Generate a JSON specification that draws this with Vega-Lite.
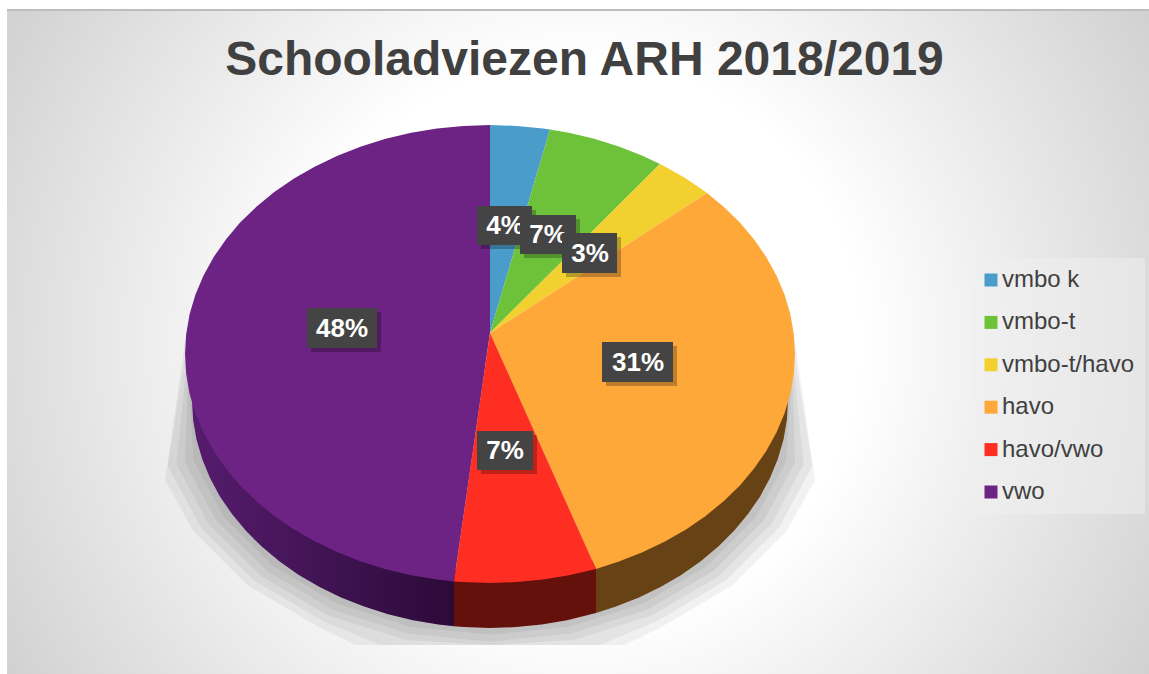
{
"$schema":"https://vega.github.io/schema/vega-lite/v6.json",
"width":1149,"height":674,"padding":0,"autosize":{"type":"none"},
"background":"#ffffff",
"view":{"stroke":null},
"title":{"text":"Schooladviezen ARH 2018/2019","font":"Liberation Sans","fontSize":48,"fontWeight":"bold","color":"#404040","anchor":"middle","frame":"group","offset":-85,"dx":10},
"datasets":{
"frame":[{"x":7,"x2":1149,"y":11,"y2":674}],
"topline":[{"x":7,"x2":1149,"y":9,"y2":11}],
"legendbox":[{"x":972,"x2":1145,"y":258,"y2":514}],
"shadow":[
{"p":"k1","o":0,"x":188,"y":370},{"p":"k1","o":1,"x":193.6,"y":460.8},{"p":"k1","o":2,"x":224.2,"y":517.4},{"p":"k1","o":3,"x":273,"y":566},{"p":"k1","o":4,"x":336.5,"y":603.4},{"p":"k1","o":5,"x":410.6,"y":626.8},{"p":"k1","o":6,"x":490,"y":634.8},{"p":"k1","o":7,"x":569.4,"y":626.8},{"p":"k1","o":8,"x":643.5,"y":603.4},{"p":"k1","o":9,"x":707,"y":566},{"p":"k1","o":10,"x":755.8,"y":517.4},{"p":"k1","o":11,"x":786.4,"y":460.8},{"p":"k1","o":12,"x":792,"y":370},
{"p":"k2","o":0,"x":188,"y":365},{"p":"k2","o":1,"x":184.9,"y":462.5},{"p":"k2","o":2,"x":216.4,"y":520.8},{"p":"k2","o":3,"x":266.7,"y":570.9},{"p":"k2","o":4,"x":332.1,"y":609.4},{"p":"k2","o":5,"x":408.3,"y":633.4},{"p":"k2","o":6,"x":490,"y":641.7},{"p":"k2","o":7,"x":571.7,"y":633.4},{"p":"k2","o":8,"x":647.9,"y":609.4},{"p":"k2","o":9,"x":713.3,"y":570.9},{"p":"k2","o":10,"x":763.6,"y":520.8},{"p":"k2","o":11,"x":795.1,"y":462.5},{"p":"k2","o":12,"x":792,"y":365},
{"p":"k3","o":0,"x":187,"y":360},{"p":"k3","o":1,"x":176.3,"y":464.3},{"p":"k3","o":2,"x":208.7,"y":524.3},{"p":"k3","o":3,"x":260.3,"y":575.7},{"p":"k3","o":4,"x":327.6,"y":615.3},{"p":"k3","o":5,"x":406,"y":640},{"p":"k3","o":6,"x":490,"y":645},{"p":"k3","o":7,"x":574,"y":640},{"p":"k3","o":8,"x":652.4,"y":615.3},{"p":"k3","o":9,"x":719.7,"y":575.7},{"p":"k3","o":10,"x":771.3,"y":524.3},{"p":"k3","o":11,"x":803.7,"y":464.3},{"p":"k3","o":12,"x":793,"y":360},
{"p":"k4","o":0,"x":186,"y":350},{"p":"k4","o":1,"x":167.7,"y":466.1},{"p":"k4","o":2,"x":200.9,"y":527.7},{"p":"k4","o":3,"x":254,"y":580.5},{"p":"k4","o":4,"x":323.1,"y":621.2},{"p":"k4","o":5,"x":380,"y":645},{"p":"k4","o":6,"x":490,"y":645},{"p":"k4","o":7,"x":600,"y":645},{"p":"k4","o":8,"x":656.9,"y":621.2},{"p":"k4","o":9,"x":726,"y":580.5},{"p":"k4","o":10,"x":779.1,"y":527.7},{"p":"k4","o":11,"x":812.3,"y":466.1},{"p":"k4","o":12,"x":794,"y":350},
{"p":"k5","o":0,"x":185,"y":340},{"p":"k5","o":1,"x":165,"y":480},{"p":"k5","o":2,"x":193.2,"y":531},{"p":"k5","o":3,"x":247.7,"y":585.4},{"p":"k5","o":4,"x":318.6,"y":627.1},{"p":"k5","o":5,"x":355,"y":645},{"p":"k5","o":6,"x":490,"y":645},{"p":"k5","o":7,"x":625,"y":645},{"p":"k5","o":8,"x":661.4,"y":627.1},{"p":"k5","o":9,"x":732.3,"y":585.4},{"p":"k5","o":10,"x":786.8,"y":531},{"p":"k5","o":11,"x":815,"y":480},{"p":"k5","o":12,"x":795,"y":340}
],
"wallPurple":[
{"o":0,"x":454,"y":570},{"o":1,"x":454,"y":626.3},{"o":2,"x":438.3,"y":624.5},{"o":3,"x":412.9,"y":620.2},{"o":4,"x":388.1,"y":614.3},{"o":5,"x":364.1,"y":606.6},{"o":6,"x":341,"y":597.5},{"o":7,"x":319.1,"y":586.8},{"o":8,"x":298.4,"y":574.7},{"o":9,"x":279.3,"y":561.2},{"o":10,"x":261.7,"y":546.6},{"o":11,"x":245.9,"y":530.8},{"o":12,"x":232,"y":514},{"o":13,"x":219.9,"y":496.4},{"o":14,"x":210,"y":478},{"o":15,"x":202.2,"y":459},{"o":16,"x":196.5,"y":439.6},{"o":17,"x":193.1,"y":419.9},{"o":18,"x":192,"y":400},{"o":19,"x":200,"y":380}
],
"wallRed":[
{"o":0,"x":454,"y":570},{"o":1,"x":454,"y":626.3},{"o":2,"x":464,"y":627.1},{"o":3,"x":490,"y":628},{"o":4,"x":516,"y":627.1},{"o":5,"x":541.7,"y":624.5},{"o":6,"x":567.1,"y":620.2},{"o":7,"x":596,"y":613},{"o":8,"x":596,"y":560}
],
"wallOrange":[
{"o":0,"x":596,"y":560},{"o":1,"x":596,"y":613},{"o":2,"x":615.9,"y":606.6},{"o":3,"x":639,"y":597.5},{"o":4,"x":660.9,"y":586.8},{"o":5,"x":681.6,"y":574.7},{"o":6,"x":700.7,"y":561.2},{"o":7,"x":718.3,"y":546.6},{"o":8,"x":734.1,"y":530.8},{"o":9,"x":748,"y":514},{"o":10,"x":760.1,"y":496.4},{"o":11,"x":770,"y":478},{"o":12,"x":777.8,"y":459},{"o":13,"x":783.5,"y":439.6},{"o":14,"x":786.9,"y":419.9},{"o":15,"x":788,"y":400},{"o":16,"x":780,"y":380}
],
"wedges":[
{"category":"vwo","o":0,"x":490,"y":333},{"category":"vwo","o":1,"x":454,"y":581.6},{"category":"vwo","o":2,"x":437,"y":579.5},{"category":"vwo","o":3,"x":411.1,"y":575.2},{"category":"vwo","o":4,"x":385.7,"y":569.2},{"category":"vwo","o":5,"x":361.1,"y":561.5},{"category":"vwo","o":6,"x":337.5,"y":552.3},{"category":"vwo","o":7,"x":315.1,"y":541.6},{"category":"vwo","o":8,"x":294,"y":529.4},{"category":"vwo","o":9,"x":274.3,"y":515.9},{"category":"vwo","o":10,"x":256.4,"y":501.2},{"category":"vwo","o":11,"x":240.1,"y":485.4},{"category":"vwo","o":12,"x":225.9,"y":468.5},{"category":"vwo","o":13,"x":213.6,"y":450.8},{"category":"vwo","o":14,"x":203.4,"y":432.3},{"category":"vwo","o":15,"x":195.4,"y":413.3},{"category":"vwo","o":16,"x":189.6,"y":393.8},{"category":"vwo","o":17,"x":186.2,"y":374},{"category":"vwo","o":18,"x":185,"y":354},{"category":"vwo","o":19,"x":186.2,"y":334},{"category":"vwo","o":20,"x":189.6,"y":314.2},{"category":"vwo","o":21,"x":195.4,"y":294.7},{"category":"vwo","o":22,"x":203.4,"y":275.7},{"category":"vwo","o":23,"x":213.6,"y":257.2},{"category":"vwo","o":24,"x":225.9,"y":239.5},{"category":"vwo","o":25,"x":240.1,"y":222.6},{"category":"vwo","o":26,"x":256.4,"y":206.8},{"category":"vwo","o":27,"x":274.3,"y":192.1},{"category":"vwo","o":28,"x":294,"y":178.6},{"category":"vwo","o":29,"x":315.1,"y":166.4},{"category":"vwo","o":30,"x":337.5,"y":155.7},{"category":"vwo","o":31,"x":361.1,"y":146.5},{"category":"vwo","o":32,"x":385.7,"y":138.8},{"category":"vwo","o":33,"x":411.1,"y":132.8},{"category":"vwo","o":34,"x":437,"y":128.5},{"category":"vwo","o":35,"x":463.4,"y":125.9},{"category":"vwo","o":36,"x":490,"y":125},
{"category":"vmbo k","o":0,"x":490,"y":333},{"category":"vmbo k","o":1,"x":490,"y":125},{"category":"vmbo k","o":2,"x":516.6,"y":125.9},{"category":"vmbo k","o":3,"x":543,"y":128.5},{"category":"vmbo k","o":4,"x":550,"y":129.5},
{"category":"vmbo-t","o":0,"x":490,"y":333},{"category":"vmbo-t","o":1,"x":550,"y":129.5},{"category":"vmbo-t","o":2,"x":568.9,"y":132.8},{"category":"vmbo-t","o":3,"x":594.3,"y":138.8},{"category":"vmbo-t","o":4,"x":618.9,"y":146.5},{"category":"vmbo-t","o":5,"x":642.5,"y":155.7},{"category":"vmbo-t","o":6,"x":660,"y":164},
{"category":"vmbo-t/havo","o":0,"x":490,"y":333},{"category":"vmbo-t/havo","o":1,"x":660,"y":164},{"category":"vmbo-t/havo","o":2,"x":664.9,"y":166.4},{"category":"vmbo-t/havo","o":3,"x":686,"y":178.6},{"category":"vmbo-t/havo","o":4,"x":705.7,"y":192.1},{"category":"vmbo-t/havo","o":5,"x":707,"y":193},
{"category":"havo","o":0,"x":490,"y":333},{"category":"havo","o":1,"x":707,"y":193},{"category":"havo","o":2,"x":723.6,"y":206.8},{"category":"havo","o":3,"x":739.9,"y":222.6},{"category":"havo","o":4,"x":754.1,"y":239.5},{"category":"havo","o":5,"x":766.4,"y":257.2},{"category":"havo","o":6,"x":776.6,"y":275.7},{"category":"havo","o":7,"x":784.6,"y":294.7},{"category":"havo","o":8,"x":790.4,"y":314.2},{"category":"havo","o":9,"x":793.8,"y":334},{"category":"havo","o":10,"x":795,"y":354},{"category":"havo","o":11,"x":793.8,"y":374},{"category":"havo","o":12,"x":790.4,"y":393.8},{"category":"havo","o":13,"x":784.6,"y":413.3},{"category":"havo","o":14,"x":776.6,"y":432.3},{"category":"havo","o":15,"x":766.4,"y":450.8},{"category":"havo","o":16,"x":754.1,"y":468.5},{"category":"havo","o":17,"x":739.9,"y":485.4},{"category":"havo","o":18,"x":723.6,"y":501.2},{"category":"havo","o":19,"x":705.7,"y":515.9},{"category":"havo","o":20,"x":686,"y":529.4},{"category":"havo","o":21,"x":664.9,"y":541.6},{"category":"havo","o":22,"x":642.5,"y":552.3},{"category":"havo","o":23,"x":618.9,"y":561.5},{"category":"havo","o":24,"x":596,"y":569},
{"category":"havo/vwo","o":0,"x":490,"y":333},{"category":"havo/vwo","o":1,"x":596,"y":569},{"category":"havo/vwo","o":2,"x":568.9,"y":575.2},{"category":"havo/vwo","o":3,"x":543,"y":579.5},{"category":"havo/vwo","o":4,"x":516.6,"y":582.1},{"category":"havo/vwo","o":5,"x":490,"y":583},{"category":"havo/vwo","o":6,"x":463.4,"y":582.1},{"category":"havo/vwo","o":7,"x":454,"y":581.6}
],
"labels":[
{"category":"vwo","share":"48%","group":"a","x":307,"x2":377,"y":308,"y2":348,"cx":342,"cy":329},
{"category":"havo","share":"31%","group":"a","x":602,"x2":673,"y":342,"y2":382,"cx":638,"cy":363},
{"category":"havo/vwo","share":"7%","group":"a","x":477,"x2":533,"y":431,"y2":470,"cx":505,"cy":451},
{"category":"vmbo k","share":"4%","group":"b","x":477,"x2":532,"y":206,"y2":245,"cx":505,"cy":226},
{"category":"vmbo-t","share":"7%","group":"c","x":520,"x2":576,"y":215,"y2":254,"cx":548,"cy":235},
{"category":"vmbo-t/havo","share":"3%","group":"d","x":562,"x2":617,"y":233,"y2":273,"cx":590,"cy":254}
]
},
"encoding":{
"x":{"field":"x","type":"quantitative","axis":null,"scale":{"domain":[0,1149],"nice":false,"zero":false}},
"y":{"field":"y","type":"quantitative","axis":null,"scale":{"domain":[674,0],"nice":false,"zero":false}}
},
"layer":[
{"data":{"name":"frame"},"mark":{"type":"rect","fill":{"gradient":"radial","x1":0.5,"y1":0.5,"r1":0,"x2":0.5,"y2":0.5,"r2":0.707,"stops":[{"offset":0,"color":"#ffffff"},{"offset":0.35,"color":"#ffffff"},{"offset":1,"color":"#bfbfbf"}]}},"encoding":{"x2":{"field":"x2"},"y2":{"field":"y2"}}},
{"data":{"name":"topline"},"mark":{"type":"rect","fill":"#bdbdbd"},"encoding":{"x2":{"field":"x2"},"y2":{"field":"y2"}}},
{"data":{"name":"legendbox"},"mark":{"type":"rect","fill":"#f0f0f0","opacity":0.5},"encoding":{"x2":{"field":"x2"},"y2":{"field":"y2"}}},
{"data":{"name":"shadow"},"mark":{"type":"line","filled":true,"color":"#000000","opacity":0.05,"stroke":null},"encoding":{"detail":{"field":"p"},"order":{"field":"o"}}},
{"data":{"name":"wallPurple"},"mark":{"type":"line","filled":true,"stroke":null,"fill":{"gradient":"linear","x1":0,"y1":0,"x2":1,"y2":0,"stops":[{"offset":0,"color":"#561c6e"},{"offset":1,"color":"#2c0a38"}]}},"encoding":{"order":{"field":"o"}}},
{"data":{"name":"wallRed"},"mark":{"type":"line","filled":true,"stroke":null,"fill":"#65110b"},"encoding":{"order":{"field":"o"}}},
{"data":{"name":"wallOrange"},"mark":{"type":"line","filled":true,"stroke":null,"fill":"#674215"},"encoding":{"order":{"field":"o"}}},
{"data":{"name":"wedges"},"mark":{"type":"line","filled":true},"encoding":{"order":{"field":"o"},"color":{"field":"category","type":"nominal","scale":{"domain":["vmbo k","vmbo-t","vmbo-t/havo","havo","havo/vwo","vwo"],"range":["#4a9ccb","#6ec23a","#f2d030","#ffa83a","#ff2e22","#6c2384"]},"legend":{"title":null,"orient":"none","legendX":972,"legendY":261,"padding":7,"symbolType":"square","symbolSize":169,"symbolStrokeWidth":0,"labelFont":"Liberation Sans","labelFontSize":24,"labelColor":"#404040","labelOffset":-1,"rowPadding":18.4}}}},
{"data":{"name":"labels"},"transform":[{"filter":"datum.group=='a'"}],"mark":{"type":"rect","fill":"#000000","opacity":0.25,"xOffset":4,"x2Offset":4,"yOffset":4,"y2Offset":4},"encoding":{"x2":{"field":"x2"},"y2":{"field":"y2"}}},
{"data":{"name":"labels"},"transform":[{"filter":"datum.group=='a'"}],"mark":{"type":"rect","fill":"#444444"},"encoding":{"x2":{"field":"x2"},"y2":{"field":"y2"}}},
{"data":{"name":"labels"},"transform":[{"filter":"datum.group=='a'"}],"mark":{"type":"text","font":"Liberation Sans","fontWeight":"bold","fontSize":26,"color":"#ffffff"},"encoding":{"x":{"field":"cx","type":"quantitative"},"y":{"field":"cy","type":"quantitative"},"text":{"field":"share"}}},
{"data":{"name":"labels"},"transform":[{"filter":"datum.group=='b'"}],"mark":{"type":"rect","fill":"#000000","opacity":0.25,"xOffset":4,"x2Offset":4,"yOffset":4,"y2Offset":4},"encoding":{"x2":{"field":"x2"},"y2":{"field":"y2"}}},
{"data":{"name":"labels"},"transform":[{"filter":"datum.group=='b'"}],"mark":{"type":"rect","fill":"#444444"},"encoding":{"x2":{"field":"x2"},"y2":{"field":"y2"}}},
{"data":{"name":"labels"},"transform":[{"filter":"datum.group=='b'"}],"mark":{"type":"text","font":"Liberation Sans","fontWeight":"bold","fontSize":26,"color":"#ffffff"},"encoding":{"x":{"field":"cx","type":"quantitative"},"y":{"field":"cy","type":"quantitative"},"text":{"field":"share"}}},
{"data":{"name":"labels"},"transform":[{"filter":"datum.group=='c'"}],"mark":{"type":"rect","fill":"#000000","opacity":0.25,"xOffset":4,"x2Offset":4,"yOffset":4,"y2Offset":4},"encoding":{"x2":{"field":"x2"},"y2":{"field":"y2"}}},
{"data":{"name":"labels"},"transform":[{"filter":"datum.group=='c'"}],"mark":{"type":"rect","fill":"#444444"},"encoding":{"x2":{"field":"x2"},"y2":{"field":"y2"}}},
{"data":{"name":"labels"},"transform":[{"filter":"datum.group=='c'"}],"mark":{"type":"text","font":"Liberation Sans","fontWeight":"bold","fontSize":26,"color":"#ffffff"},"encoding":{"x":{"field":"cx","type":"quantitative"},"y":{"field":"cy","type":"quantitative"},"text":{"field":"share"}}},
{"data":{"name":"labels"},"transform":[{"filter":"datum.group=='d'"}],"mark":{"type":"rect","fill":"#000000","opacity":0.25,"xOffset":4,"x2Offset":4,"yOffset":4,"y2Offset":4},"encoding":{"x2":{"field":"x2"},"y2":{"field":"y2"}}},
{"data":{"name":"labels"},"transform":[{"filter":"datum.group=='d'"}],"mark":{"type":"rect","fill":"#444444"},"encoding":{"x2":{"field":"x2"},"y2":{"field":"y2"}}},
{"data":{"name":"labels"},"transform":[{"filter":"datum.group=='d'"}],"mark":{"type":"text","font":"Liberation Sans","fontWeight":"bold","fontSize":26,"color":"#ffffff"},"encoding":{"x":{"field":"cx","type":"quantitative"},"y":{"field":"cy","type":"quantitative"},"text":{"field":"share"}}}
]
}
